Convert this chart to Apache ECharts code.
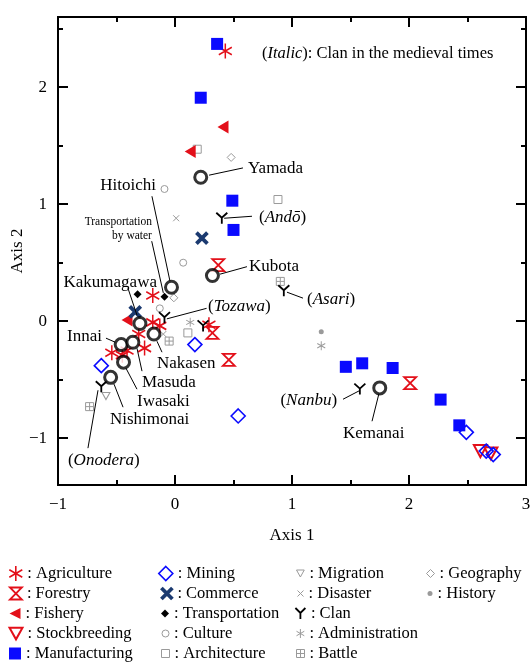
<!DOCTYPE html>
<html>
<head>
<meta charset="utf-8">
<script src="https://cdn.jsdelivr.net/npm/echarts@6/dist/echarts.min.js"></script>
<style>
  html, body { margin: 0; padding: 0; background: #fff; }
  #main { width: 532px; height: 662px; }
</style>
</head>
<body>
<div id="main"></div>
<script>
// points per category, [axis 1, axis 2]
const agriculture = [[0.43, 2.31], [-0.19, 0.22], [0.29, -0.03], [-0.19, -0.01], [-0.13, -0.04], [-0.31, -0.11], [-0.26, -0.23], [-0.41, -0.25], [-0.54, -0.27], [-0.45, -0.29]];
const forestry = [[0.37, 0.48], [0.32, -0.10], [0.46, -0.33], [2.01, -0.53]];
const fishery = [[0.41, 1.66], [0.13, 1.45], [-0.41, 0.01]];
const stockbreeding = [[2.61, -1.11], [2.70, -1.13]];
const manufacturing = [[0.36, 2.37], [0.22, 1.91], [0.49, 1.03], [0.50, 0.78], [1.46, -0.39], [1.60, -0.36], [1.86, -0.40], [2.27, -0.67], [2.43, -0.89]];
const mining = [[0.17, -0.20], [-0.63, -0.38], [0.54, -0.81], [2.49, -0.95], [2.66, -1.11], [2.72, -1.14]];
const commerce = [[0.23, 0.71], [-0.34, 0.08]];
const transportation = [[-0.32, 0.23], [-0.09, 0.21]];
const culture = [[-0.09, 1.13], [0.07, 0.50], [-0.13, 0.11]];
const architecture = [[0.19, 1.47], [0.88, 1.04], [0.11, -0.10]];
const migration = [[-0.59, -0.64]];
const disaster = [[0.01, 0.88], [-0.10, -0.11]];
const clan = [[0.40, 0.88], [0.93, 0.26], [-0.09, 0.03], [0.24, -0.04], [1.58, -0.58], [-0.63, -0.56]];
const administration = [[0.13, -0.01], [1.25, -0.21]];
const battle = [[0.90, 0.34], [-0.05, -0.17], [-0.73, -0.73]];
const geography = [[0.48, 1.40], [-0.01, 0.20]];
const history = [[1.25, -0.09]];

// the places (open circles)
const placeNames = ['Yamada', 'Hitoichi', 'Kubota', 'Kakumagawa', 'Nakasen', 'Innai', 'Masuda', 'Iwasaki', 'Nishimonai', 'Kemanai'];
const placeX = [0.22, -0.03, 0.32, -0.30, -0.18, -0.46, -0.36, -0.44, -0.55, 1.75];
const placeY = [1.23, 0.29, 0.39, -0.02, -0.11, -0.20, -0.18, -0.35, -0.48, -0.57];

const categories = ['Agriculture', 'Forestry', 'Fishery', 'Stockbreeding', 'Manufacturing',
  'Mining', 'Commerce', 'Transportation', 'Culture', 'Architecture',
  'Migration', 'Disaster', 'Clan', 'Administration', 'Battle',
  'Geography', 'History'];
const points = {
  Agriculture: agriculture, Forestry: forestry, Fishery: fishery, Stockbreeding: stockbreeding,
  Manufacturing: manufacturing, Mining: mining, Commerce: commerce, Transportation: transportation,
  Culture: culture, Architecture: architecture, Migration: migration, Disaster: disaster,
  Clan: clan, Administration: administration, Battle: battle, Geography: geography, History: history
};

const FONT = 'Liberation Serif';
const RED = '#e3101a', BLUE = '#0a0aff', NAVY = '#1b3a70', GRAY = '#9a9a9a', BLACK = '#000';
const NONE = 'rgba(0,0,0,0)';
const P = {
  asterisk: 'path://M0,-10L0,10M-8.66,-5L8.66,5M-8.66,5L8.66,-5',
  hourglass: 'path://M-10,-10L10,-10L-10,10L10,10Z',
  left: 'path://M-10,0L10,-10L10,10Z',
  down: 'path://M-10,-9L10,-9L0,9Z',
  cross: 'path://M-10,-10L10,10M-10,10L10,-10',
  clan: 'path://M-10,-10L0,0L10,-10M0,0L0,12',
  battle: 'path://M-10,-10L10,-10L10,10L-10,10ZM0,-10L0,10M-10,0L10,0'
};
const looks = {
  Agriculture: { symbol: P.asterisk, size: [13, 15], fill: NONE, stroke: RED, lw: 1.6 },
  Forestry: { symbol: P.hourglass, size: [12, 12], fill: NONE, stroke: RED, lw: 1.8 },
  Fishery: { symbol: P.left, size: [11, 13], fill: RED, stroke: RED, lw: 0 },
  Stockbreeding: { symbol: P.down, size: [13, 12], fill: NONE, stroke: RED, lw: 2 },
  Manufacturing: { symbol: 'rect', size: [12, 12], fill: BLUE, stroke: BLUE, lw: 0 },
  Mining: { symbol: 'diamond', size: [14, 14], fill: NONE, stroke: BLUE, lw: 1.6 },
  Commerce: { symbol: P.cross, size: [11, 11], fill: NONE, stroke: NAVY, lw: 3.8 },
  Transportation: { symbol: 'diamond', size: [8, 8], fill: BLACK, stroke: BLACK, lw: 0 },
  Culture: { symbol: 'circle', size: [7, 7], fill: NONE, stroke: GRAY, lw: 1 },
  Architecture: { symbol: 'rect', size: [8, 8], fill: NONE, stroke: GRAY, lw: 1 },
  Migration: { symbol: P.down, size: [8, 7], fill: NONE, stroke: GRAY, lw: 1 },
  Disaster: { symbol: P.cross, size: [6, 6], fill: NONE, stroke: GRAY, lw: 1 },
  Clan: { symbol: P.clan, size: [11, 11], fill: NONE, stroke: BLACK, lw: 1.8 },
  Administration: { symbol: P.asterisk, size: [8, 9], fill: NONE, stroke: GRAY, lw: 1 },
  Battle: { symbol: P.battle, size: [8, 8], fill: NONE, stroke: GRAY, lw: 1 },
  Geography: { symbol: 'diamond', size: [8, 8], fill: NONE, stroke: GRAY, lw: 1 },
  History: { symbol: 'circle', size: [5, 5], fill: GRAY, stroke: GRAY, lw: 0 }
};

// labels and leader lines (data coordinates)
const notes = [
  { text: 'Yamada', at: [0.624, 1.308], align: 'left', from: [0.291, 1.248], to: [0.581, 1.310] },
  { text: 'Hitoichi', at: [-0.162, 1.162], align: 'right', from: [-0.197, 1.068], to: [-0.043, 0.342] },
  { text: 'Transportation\nby water', small: true, at: [-0.197, 0.79], align: 'right', from: [-0.199, 0.684], to: [-0.100, 0.242] },
  { text: 'Kubota', at: [0.632, 0.470], align: 'left', from: [0.385, 0.402], to: [0.615, 0.466] },
  { text: 'Kakumagawa', at: [-0.154, 0.333], align: 'right', from: [-0.402, 0.282], to: [-0.325, 0.051] },
  { text: 'Tozawa', clan: true, at: [0.282, 0.128], align: 'left', from: [0.27, 0.11], to: [-0.07, 0.02] },
  { text: 'Asari', clan: true, at: [1.128, 0.188], align: 'left', from: [0.957, 0.248], to: [1.094, 0.197] },
  { text: 'Innai', at: [-0.624, -0.128], align: 'right', from: [-0.590, -0.145], to: [-0.51, -0.18] },
  { text: 'Nakasen', at: [-0.154, -0.359], align: 'left', from: [-0.154, -0.171], to: [-0.111, -0.265] },
  { text: 'Masuda', at: [-0.282, -0.521], align: 'left', from: [-0.325, -0.231], to: [-0.282, -0.427] },
  { text: 'Iwasaki', at: [-0.325, -0.684], align: 'left', from: [-0.419, -0.402], to: [-0.325, -0.581] },
  { text: 'Nishimonai', at: [-0.556, -0.838], align: 'left', from: [-0.521, -0.538], to: [-0.444, -0.735] },
  { text: 'Onodera', clan: true, at: [-0.915, -1.188], align: 'left', from: [-0.744, -1.085], to: [-0.658, -0.59] },
  { text: 'Nanbu', clan: true, at: [1.385, -0.675], align: 'right', from: [1.436, -0.667], to: [1.580, -0.592] },
  { text: 'Kemanai', at: [1.436, -0.957], align: 'left', from: [1.744, -0.615], to: [1.684, -0.855] },
  { text: 'And\u014D', clan: true, at: [0.718, 0.889], align: 'left', from: [0.42, 0.880], to: [0.658, 0.897] }
];

// legend layout: four columns
const legendCols = [
  ['Agriculture', 'Forestry', 'Fishery', 'Stockbreeding', 'Manufacturing'],
  ['Mining', 'Commerce', 'Transportation', 'Culture', 'Architecture'],
  ['Migration', 'Disaster', 'Clan', 'Administration', 'Battle'],
  ['Geography', 'History']
];
const colX = [15, 165, 300, 430];
const rowY0 = 574, rowGap = 20;

const isInt = v => Math.abs(v - Math.round(v)) < 1e-6;
const fmt = v => isInt(v) ? String(Math.round(v)).replace('-', '\u2212') : '';

const tickLine = { color: '#000', width: 2 };
const labelStyle = { fontFamily: FONT, fontSize: 17, color: '#000' };

function xAxis(pos, withLabels) {
  return {
    type: 'value', min: -1, max: 3, interval: 1, position: pos,
    axisLine: { onZero: false, lineStyle: tickLine },
    axisTick: { inside: true, length: 10, lineStyle: tickLine },
    minorTick: { show: true, splitNumber: 2, length: 5, lineStyle: tickLine },
    splitLine: { show: false },
    axisLabel: { show: withLabels, formatter: fmt, margin: 11, ...labelStyle },
    name: withLabels ? 'Axis 1' : '', nameLocation: 'middle', nameGap: 42,
    nameMoveOverlap: false, nameTextStyle: labelStyle
  };
}
function yAxis(pos, step, len, withLabels) {
  return {
    type: 'value', min: -1.4, max: 2.6, splitNumber: 4 / step,
    minInterval: step, maxInterval: step, position: pos,
    axisLine: { onZero: false, lineStyle: tickLine },
    axisTick: { inside: true, length: len, lineStyle: tickLine },
    splitLine: { show: false },
    axisLabel: { show: withLabels, formatter: fmt, margin: 11, ...labelStyle },
    name: withLabels ? 'Axis 2' : '', nameLocation: 'middle', nameGap: 32,
    nameMoveOverlap: false, nameTextStyle: labelStyle
  };
}

const series = categories.map(name => {
  const lk = looks[name];
  return {
    name: name, type: 'scatter', data: points[name],
    symbol: lk.symbol, symbolSize: lk.size,
    itemStyle: { color: lk.fill, borderColor: lk.stroke, borderWidth: lk.lw, opacity: 1 },
    emphasis: { disabled: true },
    z: lk.stroke === GRAY ? 2 : 3
  };
});

series.push({
  name: 'Place', type: 'scatter',
  data: placeNames.map((n, i) => ({ name: n, value: [placeX[i], placeY[i]] })),
  symbol: 'circle', symbolSize: 12,
  itemStyle: { color: '#fff', borderColor: '#000', borderWidth: 3 },
  emphasis: { disabled: true }, z: 5
});

series.push({
  name: 'Notes', type: 'custom', clip: false, silent: true, z: 4,
  data: notes.map((a, i) => [a.at[0], a.at[1], i]),
  encode: { x: 0, y: 1 },
  renderItem: function (params, api) {
    const a = notes[api.value(2)];
    const p = api.coord(a.at), f = api.coord(a.from), t = api.coord(a.to);
    const size = a.small ? 11.5 : 17;
    return {
      type: 'group',
      children: [
        { type: 'line', shape: { x1: f[0], y1: f[1], x2: t[0], y2: t[1] },
          style: { stroke: '#000', lineWidth: 1 } },
        { type: 'text', x: p[0], y: p[1],
          style: {
            text: a.clan ? '({i|' + a.text + '})' : a.text,
            align: a.align, verticalAlign: 'middle',
            fontFamily: FONT, fontSize: size, lineHeight: a.small ? 14 : 20, fill: '#000',
            rich: { i: { fontFamily: FONT, fontSize: size, fontStyle: 'italic', fill: '#000' } }
          } }
      ]
    };
  }
});

const legend = [];
legendCols.forEach((col, c) => {
  col.forEach((name, r) => {
    const lk = looks[name];
    legend.push({
      data: [name], selectedMode: false, padding: 0,
      left: colX[c] - lk.size[0] / 2, top: rowY0 + r * rowGap - 9,
      itemWidth: lk.size[0], itemHeight: lk.size[1],
      itemStyle: { borderWidth: lk.lw },
      formatter: ': {name}',
      textStyle: { fontFamily: FONT, fontSize: 16.5, color: '#000' }
    });
  });
});

const chart = echarts.init(document.getElementById('main'), null, { renderer: 'canvas' });
chart.setOption({
  animation: false,
  backgroundColor: '#fff',
  grid: { left: 58, top: 17, width: 468, height: 468, containLabel: false, outerBoundsMode: 'none' },
  xAxis: [xAxis('bottom', true), xAxis('top', false)],
  yAxis: [yAxis('left', 1, 10, true), yAxis('left', 0.5, 5, false),
          yAxis('right', 1, 10, false), yAxis('right', 0.5, 5, false)],
  legend: legend,
  graphic: [{
    type: 'text', left: 262, top: 45,
    style: {
      text: '({i|Italic}): Clan in the medieval times',
      fontFamily: FONT, fontSize: 16.5, fill: '#000',
      rich: { i: { fontFamily: FONT, fontSize: 16.5, fontStyle: 'italic', fill: '#000' } }
    }
  }],
  series: series
});
</script>
</body>
</html>
